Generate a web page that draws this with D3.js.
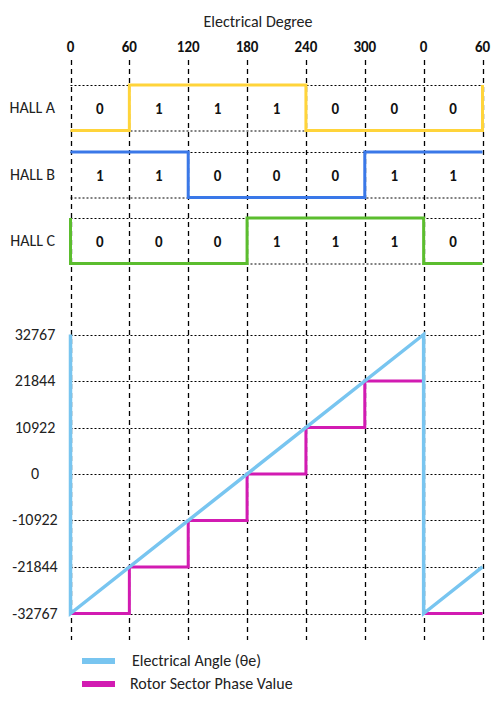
<!DOCTYPE html>
<html><head><meta charset="utf-8">
<script src="https://cdn.jsdelivr.net/npm/d3@7"></script>
<style>body{margin:0;background:#fff}svg{display:block}</style>
</head><body>
<svg id="c" width="504" height="704"></svg>
<script>
// ---- data ----
const degreeTicks = [0, 60, 120, 180, 240, 300, 360, 420];
const degreeLabels = ["0", "60", "120", "180", "240", "300", "0", "60"];
const hallNames = ["HALL A", "HALL B", "HALL C"];
const hallA = [0, 1, 1, 1, 0, 0, 0];
const hallB = [1, 1, 0, 0, 0, 1, 1];
const hallC = [0, 0, 0, 1, 1, 1, 0];
const hallColors = ["#FFD43A", "#3A78E8", "#5BBD2E"];
const yTicks = [32767, 21844, 10922, 0, -10922, -21844, -32767];
const angleDeg = [0, 0, 360, 360, 420];
const angleVal = [32767, -32767, 32767, -32767, -21844];
const sectorStart = [0, 60, 120, 180, 240, 300, 360];
const sectorVal = [-32767, -21844, -10922, 0, 10922, 21844, -32767];
const seriesNames = ["Electrical Angle (θe)", "Rotor Sector Phase Value"];
const seriesColors = ["#78C5F0", "#D21BB2"];

const svg = d3.select("#c");
const font = "Calibri, Carlito, 'Open Sans', Lato, sans-serif";
const x = d3.scaleLinear().domain([0, 420]).range([70.5, 482.5]);
const y = d3.scaleLinear().domain([-32767, 32767]).range([613.5, 334.5]);

// title
svg.append("text").attr("x", 258).attr("y", 27).attr("text-anchor", "middle")
  .attr("font-family", font).attr("font-size", 16).attr("fill", "#222").text("Electrical Degree");

// top degree labels
svg.selectAll("text.deg").data(degreeTicks).join("text").attr("class", "deg")
  .attr("x", d => x(d)).attr("y", 52).attr("text-anchor", "middle")
  .attr("font-family", font).attr("font-size", 15).attr("font-weight", "bold").attr("fill", "#111")
  .text((d, i) => degreeLabels[i]);

// vertical dashed lines
svg.selectAll("line.v").data(degreeTicks).join("line").attr("class", "v")
  .attr("x1", d => Math.round(x(d)) + 0.5).attr("x2", d => Math.round(x(d)) + 0.5)
  .attr("y1", 60).attr("y2", 640)
  .attr("stroke", "#000").attr("stroke-width", 1.3).attr("stroke-dasharray", "5,4");

// hall rows
const halls = [hallA, hallB, hallC];
const rowTop = [85, 152, 218];
const rowH = 45.5;
halls.forEach((vals, r) => {
  const top = rowTop[r], bot = top + rowH;
  const hy = v => v ? top : bot;
  [top, bot].forEach(yy => svg.append("line").attr("x1", x(0)).attr("x2", x(420))
    .attr("y1", yy + 0.5).attr("y2", yy + 0.5).attr("stroke", "#000").attr("stroke-width", 1)
    .attr("stroke-dasharray", "2,2"));
  svg.append("text").attr("x", 55).attr("y", (top + bot) / 2 + 5).attr("text-anchor", "end")
    .attr("font-family", font).attr("font-size", 16).attr("fill", "#222").text(hallNames[r]);
  const pts = [];
  const prev = vals[5], next = vals[1];
  if (prev !== vals[0]) pts.push([x(0), hy(prev)]);
  vals.forEach((v, i) => {
    pts.push([x(i * 60), hy(v)]);
    pts.push([x(i * 60 + 60), hy(v)]);
  });
  if (next !== vals[6]) pts.push([x(420), hy(next)]);
  svg.append("path").attr("d", d3.line()(pts)).attr("fill", "none")
    .attr("stroke", hallColors[r]).attr("stroke-width", 3);
  svg.selectAll(null).data(vals).join("text")
    .attr("x", (d, i) => x(i * 60 + 30)).attr("y", (top + bot) / 2 + 6)
    .attr("text-anchor", "middle").attr("font-family", font).attr("font-size", 15)
    .attr("font-weight", "bold").attr("fill", "#111").text(d => d);
});

// lower chart gridlines
svg.selectAll("line.h").data(yTicks).join("line").attr("class", "h")
  .attr("x1", x(0)).attr("x2", x(420))
  .attr("y1", d => Math.round(y(d)) + 0.5).attr("y2", d => Math.round(y(d)) + 0.5)
  .attr("stroke", "#000").attr("stroke-width", 1).attr("stroke-dasharray", "2,2");
svg.selectAll("text.yl").data(yTicks).join("text").attr("class", "yl")
  .attr("x", 35).attr("y", d => y(d) + 5).attr("text-anchor", "middle")
  .attr("font-family", font).attr("font-size", 16).attr("fill", "#222").text(d => d);

// rotor sector step (magenta)
const stepA = [], stepB = [];
sectorStart.forEach((s, i) => {
  const arr = s < 360 ? stepA : stepB;
  arr.push([x(s), y(sectorVal[i])]);
  arr.push([x(s + 60), y(sectorVal[i])]);
});
[stepA, stepB].forEach(p => svg.append("path").attr("d", d3.line()(p)).attr("fill", "none")
  .attr("stroke", seriesColors[1]).attr("stroke-width", 3));

// electrical angle (light blue)
svg.append("path").attr("d", d3.line().x(d => x(d)).y((d, i) => y(angleVal[i]))(angleDeg))
  .attr("fill", "none").attr("stroke", seriesColors[0]).attr("stroke-width", 3.5);

// legend
seriesNames.forEach((n, i) => {
  const ly = 661 + i * 23;
  svg.append("rect").attr("x", 82).attr("y", ly - 3).attr("width", 33).attr("height", 6)
    .attr("fill", seriesColors[i]);
  svg.append("text").attr("x", i ? 130 : 132).attr("y", ly + 5).attr("font-family", font)
    .attr("font-size", 16).attr("fill", "#222").text(n);
});
</script>
</body></html>
